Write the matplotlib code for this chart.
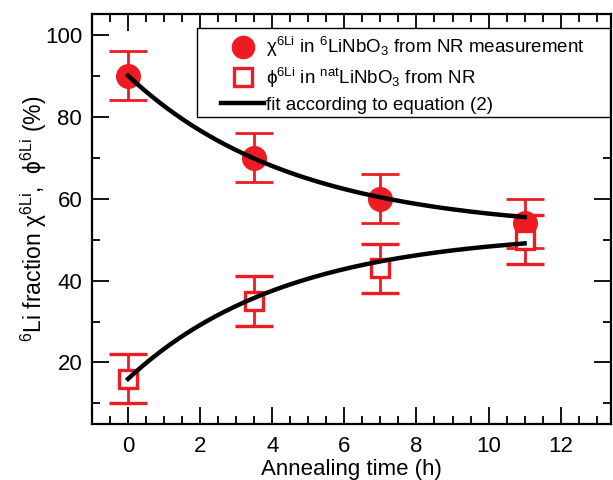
import numpy as np
import matplotlib
matplotlib.use("Agg")
import matplotlib.pyplot as plt
from matplotlib.ticker import MultipleLocator
from matplotlib.legend_handler import HandlerBase
from matplotlib.lines import Line2D
from matplotlib.patches import Rectangle

plt.rcParams['font.family'] = ['Liberation Sans', 'DejaVu Sans']
plt.rcParams['mathtext.fontset'] = 'custom'
plt.rcParams['mathtext.rm'] = 'Liberation Sans'
plt.rcParams['mathtext.it'] = 'Liberation Sans:italic'

# data
time_h = [0, 3.5, 7, 11]
chi_6li = [90, 70, 60, 54]
chi_err = [6, 6, 6, 6]
phi_6li = [16, 35, 43, 50]
phi_err = [6, 6, 6, 6]

# fit parameters (equation 2): A + B*exp(-t/tau)
chi_fit = dict(A=52.0, B=38.0, tau=4.6)
phi_fit = dict(A=52.0, B=-36.0, tau=4.4)

red = '#ED1C24'

fig = plt.figure(figsize=(6.13, 4.8), dpi=100)
ax = fig.add_axes([0.150, 0.1167, 0.847, 0.854])

tfit = np.linspace(0, 11, 200)
ax.plot(tfit, chi_fit['A'] + chi_fit['B'] * np.exp(-tfit / chi_fit['tau']),
        color='black', lw=3.2, zorder=4)
ax.plot(tfit, phi_fit['A'] + phi_fit['B'] * np.exp(-tfit / phi_fit['tau']),
        color='black', lw=3.2, zorder=4)

ax.errorbar(time_h, chi_6li, yerr=chi_err, fmt='o', color=red, ms=17,
            ecolor=red, elinewidth=2, capsize=14, capthick=2, zorder=3)
ax.errorbar(time_h, phi_6li, yerr=phi_err, fmt='s', mfc='white', mec=red, mew=2.4,
            color=red, ms=13.5, ecolor=red, elinewidth=2, capsize=14, capthick=2, zorder=3)

ax.set_xlim(-1, 13.4)
ax.set_ylim(5, 105)
ax.xaxis.set_major_locator(MultipleLocator(2))
ax.xaxis.set_minor_locator(MultipleLocator(0.5))
ax.yaxis.set_major_locator(MultipleLocator(20))
ax.yaxis.set_minor_locator(MultipleLocator(10))
ax.tick_params(which='both', direction='in', top=True, right=True, width=1.3, labelsize=16)
ax.tick_params(which='major', length=12)
ax.tick_params(axis='x', which='major', pad=9)
ax.tick_params(axis='y', which='major', pad=7)
ax.tick_params(which='minor', length=6)
for s in ax.spines.values():
    s.set_linewidth(1.6)

ax.set_xlabel('Annealing time (h)', fontsize=16, labelpad=1)
ax.set_ylabel(r'$^{\mathrm{6}}$Li fraction χ$^{\mathrm{6Li}}$,  ϕ$^{\mathrm{6Li}}$ (%)',
              fontsize=16.5, labelpad=-3)


class RightHandler(HandlerBase):
    """Draw the legend key in the right part of the handle box."""
    def __init__(self, kind, L=31.0):
        super().__init__()
        self.kind = kind
        self.L = L

    def create_artists(self, legend, orig, xdescent, ydescent, width, height, fontsize, trans):
        y = height / 2 - ydescent
        x1 = width - xdescent
        x0 = x1 - self.L
        if self.kind == 'line':
            art = Line2D([x0, x1], [y, y], color='black', lw=3.2)
        elif self.kind == 'circle':
            art = Line2D([(x0 + x1) / 2], [y], marker='o', color=red, ls='none', ms=16)
        else:
            art = Line2D([(x0 + x1) / 2], [y], marker='s', mfc='white', mec=red,
                         mew=2.4, ls='none', ms=12.5)
        art.set_transform(trans)
        return [art]


# legend frame
ax.add_patch(Rectangle((0.202, 0.749), 0.796, 0.217, transform=ax.transAxes,
                       facecolor='white', edgecolor='black', lw=1.0, zorder=5))

h1 = Line2D([], [])
h2 = Line2D([], [])
h3 = Line2D([], [])
leg = ax.legend([h1, h2, h3],
                [r'χ$^{\mathrm{6Li}}$ in $^{\mathrm{6}}$LiNbO$_{\mathrm{3}}$ from NR measurement',
                 r'ϕ$^{\mathrm{6Li}}$ in $^{\mathrm{nat}}$LiNbO$_{\mathrm{3}}$ from NR',
                 'fit according to equation (2)'],
                handler_map={h1: RightHandler('circle'), h2: RightHandler('square'),
                             h3: RightHandler('line')},
                loc='upper right', bbox_to_anchor=(0.964, 0.967), fontsize=13.5,
                frameon=False, handlelength=2.3,
                handletextpad=0.1, borderpad=0.4, labelspacing=0.36, borderaxespad=0)
leg.set_zorder(6)

fig.savefig('out.png', dpi=100)
